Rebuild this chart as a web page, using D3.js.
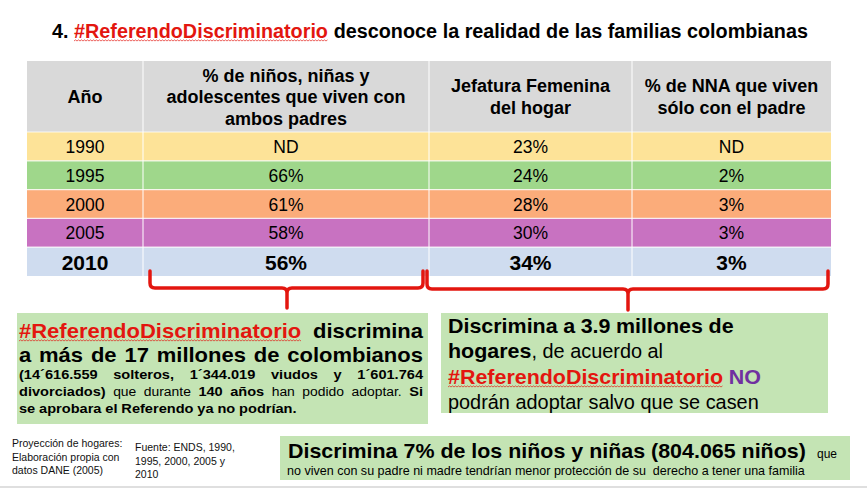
<!DOCTYPE html>
<html><head><meta charset="utf-8">
<script src="https://cdn.jsdelivr.net/npm/d3@7"></script>
<style>body{margin:0;background:#fff}svg{display:block}</style>
</head><body><svg id="c" width="867" height="488"></svg>
<script>
// ---------- data ----------
const years = ["1990","1995","2000","2005","2010"];
const ambosPadres = ["ND","66%","61%","58%","56%"];
const jefaturaFemenina = ["23%","24%","28%","30%","34%"];
const soloPadre = ["ND","2%","3%","3%","3%"];
const columns = ["anio","ambos","jefatura","solo"];
const headerLines = [["Año"],["% de niños, niñas y","adolescentes que viven con","ambos padres"],["Jefatura Femenina","del hogar"],["% de NNA que viven","sólo con el padre"]];
const titleRuns = [{t:"4. "},{t:"#ReferendoDiscriminatorio",c:"red",u:1},{t:" desconoce la realidad de las familias colombianas"}];
const leftBoxLines = [
  [{t:"#ReferendoDiscriminatorio",b:1,c:"red",u:1},{t:" discrimina",b:1}],
  [{t:"a más de 17 millones de colombianos",b:1}],
  [{t:"(14´616.559 solteros, 1´344.019 viudos y 1´601.764",b:1}],
  [{t:"divorciados)",b:1},{t:" que durante "},{t:"140 años",b:1},{t:" han podido adoptar. "},{t:"Si",b:1}],
  [{t:"se aprobara el Referendo ya no podrían.",b:1}]
];
const rightBoxLines = [
  [{t:"Discrimina a 3.9 millones de",b:1}],
  [{t:"hogares",b:1},{t:", de acuerdo al"}],
  [{t:"#ReferendoDiscriminatorio",b:1,c:"red",u:1},{t:" NO",b:1,c:"purple"}],
  [{t:"podrán adoptar salvo que se casen"}]
];
const bottomBig = "Discrimina 7% de los niños y niñas (804.065 niños)";
const bottomQue = "que";
const bottomSmall = "no viven con su padre ni madre tendrían menor protección de su  derecho a tener una familia";
const noteLeft = ["Proyección de hogares:","Elaboración propia con","datos DANE (2005)"];
const noteRight = ["Fuente: ENDS, 1990,","1995, 2000, 2005 y","2010"];

// ---------- styles ----------
const rowColors = ["#fde398","#9fd78b","#fbac7a","#c872c1","#cfdcef"];
const COL = {red:"#e3160f", purple:"#7030a0", black:"#000"};
const FONT = "'Liberation Sans', Arial, Helvetica, sans-serif";

const svg = d3.select("#c");
const ctx = document.createElement("canvas").getContext("2d");
function tw(t,size,bold){ctx.font=(bold?"bold ":"")+size+"px "+FONT;return ctx.measureText(t).width;}

function wavy(g,x0,x1,y,color){
  const p=d3.path(); p.moveTo(x0,y); let up=true;
  for(let x=x0+1.5;x<=x1;x+=1.5){p.lineTo(x,y+(up?-1.1:0));up=!up;}
  g.append("path").attr("d",p.toString()).attr("fill","none").attr("stroke",color).attr("stroke-width",0.8).attr("opacity",0.85);
}
function tokenize(runs){
  const words=[[]];
  runs.forEach(r=>{
    r.t.split(/(\s+)/).forEach(part=>{
      if(part==="")return;
      if(/^\s+$/.test(part)){ if(words[words.length-1].length) words.push([]); }
      else words[words.length-1].push(Object.assign({},r,{t:part}));
    });
  });
  return words.filter(w=>w.length);
}
function drawRuns(g,x,y,runs,o){
  const words=tokenize(runs);
  const pw=p=>tw(p.t,o.size,p.b)*(p.b?o.sxB:o.sxR);
  const widths=words.map(w=>d3.sum(w,pw));
  const total=d3.sum(widths);
  const gap=(o.justify&&words.length>1)?(o.width-total)/(words.length-1):tw(" ",o.size,false)*o.sxR;
  let cx=x;
  words.forEach((w,i)=>{
    w.forEach(p=>{
      const wdt=pw(p);
      g.append("text").attr("transform",`translate(${cx},${y}) scale(${p.b?o.sxB:o.sxR},1)`)
        .attr("font-family",FONT).attr("font-size",o.size).attr("font-weight",p.b?"bold":"normal")
        .attr("fill",COL[p.c||"black"]).text(p.t);
      if(p.u) wavy(g,cx,cx+wdt,y+3,COL.red);
      cx+=wdt;
    });
    cx+=gap;
  });
}

// ---------- title ----------
const titleFull = titleRuns.map(r=>r.t).join("");
const titleSx = 756/tw(titleFull,21,true);
drawRuns(svg.append("g"),52,38,titleRuns.map(r=>Object.assign({b:1},r)),{size:21,sxB:titleSx,sxR:titleSx});

// ---------- table ----------
const tableX0=27, tableX1=831, headY0=61, headY1=132, bodyY1=276;
const colX = d3.scaleOrdinal().domain(columns).range([27,143,429,632]);
const colW = d3.scaleOrdinal().domain(columns).range([116,286,203,199]);
const y = d3.scaleBand().domain(years).range([headY1,bodyY1]);
const rowColor = d3.scaleOrdinal().domain(years).range(rowColors);
const tbl = svg.append("g");
tbl.append("rect").attr("x",tableX0).attr("y",headY0).attr("width",tableX1-tableX0).attr("height",headY1-headY0).attr("fill","#d9d9d9");
tbl.selectAll("rect.row").data(years).join("rect").attr("class","row")
  .attr("x",tableX0).attr("y",d=>y(d)).attr("width",tableX1-tableX0).attr("height",y.bandwidth()).attr("fill",d=>rowColor(d));
tbl.selectAll("line.h").data(years).join("line").attr("class","h")
  .attr("x1",tableX0).attr("x2",tableX1).attr("y1",d=>y(d)).attr("y2",d=>y(d)).attr("stroke","#fff").attr("stroke-width",1.2).attr("opacity",0.8);
tbl.selectAll("line.v").data(columns.slice(1)).join("line").attr("class","v")
  .attr("x1",d=>colX(d)).attr("x2",d=>colX(d)).attr("y1",headY0).attr("y2",bodyY1).attr("stroke","#fff").attr("stroke-width",1);
columns.forEach((c,i)=>{
  const lines=headerLines[i], lh=21.5, cx=colX(c)+colW(c)/2;
  const mid=(headY0+headY1)/2;
  lines.forEach((t,j)=>{
    tbl.append("text").attr("x",cx).attr("y",mid+(j-(lines.length-1)/2)*lh+6.5)
      .attr("text-anchor","middle").attr("font-family",FONT).attr("font-weight","bold").attr("font-size",18).text(t);
  });
});
const rowsData = years.map((yr,i)=>({yr,vals:[yr,ambosPadres[i],jefaturaFemenina[i],soloPadre[i]]}));
rowsData.forEach((r,i)=>{
  const last = i===years.length-1;
  columns.forEach((c,j)=>{
    tbl.append("text").attr("x",colX(c)+colW(c)/2).attr("y",y(r.yr)+y.bandwidth()/2+(last?8:6.5))
      .attr("text-anchor","middle").attr("font-family",FONT).attr("font-size",last?21:17.5)
      .attr("font-weight",last?"bold":"normal").text(r.vals[j]);
  });
});

// ---------- braces ----------
function brace(x0,x1,xm,yTop,yH,yTip){
  const r=5,p=d3.path();
  p.moveTo(x0,yTop); p.lineTo(x0,yH-r); p.quadraticCurveTo(x0,yH,x0+r,yH);
  p.lineTo(xm-r,yH); p.quadraticCurveTo(xm,yH,xm,yH+r); p.lineTo(xm,yTip);
  p.moveTo(xm,yH+r); p.quadraticCurveTo(xm,yH,xm+r,yH);
  p.lineTo(x1-r,yH); p.quadraticCurveTo(x1,yH,x1,yH-r); p.lineTo(x1,yTop);
  return p.toString();
}
const braceG=svg.append("g").attr("fill","none").attr("stroke","#e3160f").attr("stroke-width",3.5).attr("stroke-linejoin","round").attr("stroke-linecap","round");
braceG.append("path").attr("d",brace(150,423,287,271,288,308));
braceG.append("path").attr("d",brace(427,828,628,271,289,310));

// ---------- green boxes ----------
const boxG=svg.append("g");
const BOXC="#c4e4b4";
boxG.append("rect").attr("x",17).attr("y",313).attr("width",411).attr("height",111).attr("fill",BOXC);
boxG.append("rect").attr("x",441).attr("y",313).attr("width",387).attr("height",100).attr("fill",BOXC);
boxG.append("rect").attr("x",280).attr("y",436).attr("width",570).attr("height",44).attr("fill",BOXC);

const lb=svg.append("g");
const lbY=[338,362,379,396,413];
leftBoxLines.forEach((ln,i)=>{
  const big=i<2;
  drawRuns(lb,19,lbY[i],ln,{size:big?20:13.5,sxB:big?1.1:1.08,sxR:1.03,justify:i<4,width:404});
});
const rb=svg.append("g");
const rbY=[333,358,384,409];
rightBoxLines.forEach((ln,i)=>{
  drawRuns(rb,448,rbY[i],ln,{size:19.5,sxB:1.1,sxR:1.02});
});

// bottom box
const bb=svg.append("g");
const bigSx=518/tw(bottomBig,20,true);
bb.append("text").attr("transform",`translate(288,458) scale(${bigSx},1)`).attr("font-family",FONT)
  .attr("font-weight","bold").attr("font-size",20).text(bottomBig);
bb.append("text").attr("x",817).attr("y",458).attr("font-family",FONT).attr("font-size",12).text(bottomQue);
const smallSx=518/tw(bottomSmall,12.5,false);
bb.append("text").attr("transform",`translate(287,475) scale(${smallSx},1)`).attr("font-family",FONT)
  .attr("font-size",12.5).style("white-space","pre").text(bottomSmall);

// notes
const nt=svg.append("g").attr("font-family",FONT).attr("font-size",10.5).attr("fill","#111");
nt.selectAll("text.l").data(noteLeft).join("text").attr("class","l").attr("x",12).attr("y",(d,i)=>447+i*13.5).text(d=>d);
nt.selectAll("text.r").data(noteRight).join("text").attr("class","r").attr("x",135).attr("y",(d,i)=>451+i*13.5).text(d=>d);

svg.append("line").attr("x1",0).attr("x2",867).attr("y1",487).attr("y2",487).attr("stroke","#d4d4d4").attr("stroke-width",1.5);
</script></body></html>
